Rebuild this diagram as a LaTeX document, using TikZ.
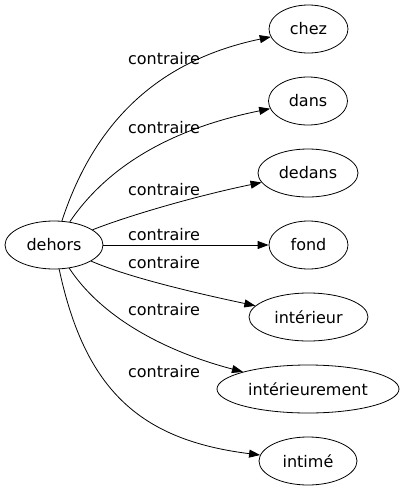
\documentclass[tikz,border=0pt]{standalone}
\usepackage{fontspec}
\setmainfont{DejaVu Sans}
\usetikzlibrary{shapes.geometric,arrows.meta}
\begin{document}
\begin{tikzpicture}[x=1pt,y=-1pt,
  word/.style={draw,line width=0.8pt,ellipse,inner sep=0pt,minimum height=48pt,font=\fontsize{16}{19}\selectfont},
  rel/.style={draw,line width=0.8pt,-{Triangle[length=11pt,width=8pt]}},
  lab/.style={anchor=base,inner sep=0pt,font=\fontsize{16}{19}\selectfont}]
\useasboundingbox (0,0) rectangle (404,491);
\node[word,minimum width=98pt] (dehors) at (54,245) {dehors};
\node[word,minimum width=79pt] (chez) at (308.5,29) {chez};
\node[word,minimum width=79pt] (dans) at (308,101) {dans};
\node[word,minimum width=100pt] (dedans) at (308,173) {dedans};
\node[word,minimum width=79pt] (fond) at (308.5,245) {fond};
\node[word,minimum width=119pt] (interieur) at (308.5,317) {intérieur};
\node[word,minimum width=182pt] (interieurement) at (308,389) {intérieurement};
\node[word,minimum width=98pt] (intime) at (308,461) {intimé};
\draw[rel] (dehors) .. controls (95,120) and (160,60) .. (chez);
\draw[rel] (dehors) .. controls (105,170) and (165,130) .. (dans);
\draw[rel] (dehors) .. controls (130,215) and (200,195) .. (dedans);
\draw[rel] (dehors) -- (fond);
\draw[rel] (dehors) .. controls (130,278) and (200,294) .. (interieur);
\draw[rel] (dehors) .. controls (100,315) and (160,350) .. (interieurement);
\draw[rel] (dehors) .. controls (85,390) and (140,440) .. (intime);
\node[lab] (l1) at (164,64) {contraire};
\node[lab] (l2) at (164,133) {contraire};
\node[lab] (l3) at (164,195) {contraire};
\node[lab] (l4) at (164,240) {contraire};
\node[lab] (l5) at (164,268) {contraire};
\node[lab] (l6) at (164,315) {contraire};
\node[lab] (l7) at (164,377) {contraire};
\end{tikzpicture}
\end{document}
